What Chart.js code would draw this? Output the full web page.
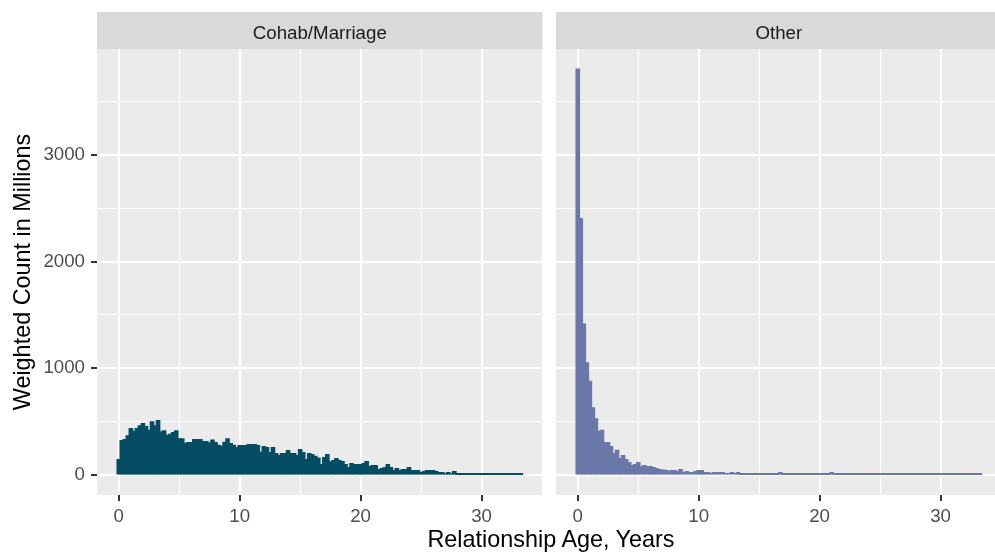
<!DOCTYPE html>
<html lang="en">

<head>
  <meta charset="UTF-8">
  <script src="https://cdn.jsdelivr.net/npm/chart.js"></script>
  <title>Relationship Age Histogram</title>
  <style>
    body { margin: 0; width: 995px; height: 558px; overflow: hidden; background: #fff; position: relative; font-family: "Liberation Sans", Arial, sans-serif; }
    canvas { position: absolute; top: 0; }
    #cohab { left: 0; }
    #other { left: 556px; }
    #x-title { position: absolute; left: 0; width: 1102px; top: 528px; text-align: center; font-size: 23.4px; line-height: 23.4px; color: #000; }
  </style>
</head>

<body>
  <canvas id="cohab" width="547" height="558"></canvas>
  <canvas id="other" width="450" height="558"></canvas>
  <div id="x-title">Relationship Age, Years</div>

<script>
  // histogram bins are 0.25 years wide, centred on 0, 0.25, 0.5 ...
  const binWidth = 0.25
  const panelLabels = ['Cohab/Marriage', 'Other']
  const xTicks = [0, 10, 20, 30]
  const xMinor = [5, 15, 25, 35]
  const yTicks = [0, 1000, 2000, 3000]
  const yMinor = [500, 1500, 2500, 3500]

  const cohabCounts = [
    140, 318, 327, 364, 430, 405, 430, 458, 477, 449,
    414, 495, 458, 505, 400, 411, 367, 378, 394, 411,
    336, 336, 293, 300, 300, 327, 327, 327, 310, 310,
    296, 322, 300, 274, 265, 302, 336, 290, 274, 252,
    271, 271, 271, 280, 280, 280, 271, 209, 262, 252,
    206, 252, 196, 178, 196, 196, 224, 196, 196, 178,
    234, 206, 140, 196, 187, 170, 154, 93, 159, 187,
    118, 131, 150, 131, 121, 93, 65, 103, 93, 93,
    93, 103, 121, 75, 84, 84, 47, 56, 65, 93,
    65, 37, 56, 37, 47, 47, 65, 37, 37, 37,
    19, 28, 37, 37, 37, 28, 19, 19, 9, 19,
    9, 28, 5, 5, 5, 5, 5, 5, 5, 5,
    5, 5, 5, 5, 5, 5, 5, 5, 5, 5,
    5, 5, 5, 5
  ]

  const otherCounts = [
    3804, 2402, 1411, 1047, 875, 626, 523, 405, 414, 299,
    299, 262, 196, 227, 150, 178, 140, 112, 84, 93,
    112, 75, 84, 75, 75, 65, 56, 47, 42, 40,
    33, 37, 37, 28, 47, 19, 28, 19, 19, 28,
    37, 37, 19, 19, 9, 19, 19, 19, 19, 9,
    9, 19, 9, 19, 6, 5, 6, 5, 5, 6,
    5, 5, 6, 5, 5, 5, 6, 19, 5, 5,
    6, 5, 5, 5, 6, 5, 5, 5, 5, 6,
    5, 5, 5, 5, 19, 4, 4, 5, 4, 4,
    4, 4, 4, 5, 4, 4, 4, 4, 4, 4,
    4, 4, 4, 4, 4, 4, 4, 4, 4, 4,
    4, 4, 4, 4, 4, 4, 4, 4, 4, 4,
    4, 4, 4, 4, 4, 4, 4, 4, 4, 4,
    4, 4, 4, 4
  ]

  Chart.defaults.font.family = '"Liberation Sans", Arial, sans-serif'

  // grey panel background + facet strip on top
  const stripPlugin = {
    id: 'strip',
    beforeDraw(chart, args, opts) {
      const { ctx, chartArea } = chart
      ctx.save()
      ctx.fillStyle = '#ebebeb'
      ctx.fillRect(chartArea.left, chartArea.top, chartArea.width, chartArea.height)
      ctx.fillStyle = '#d9d9d9'
      ctx.fillRect(chartArea.left, 12, chartArea.width, chartArea.top - 12)
      ctx.fillStyle = '#1a1a1a'
      ctx.font = '18.7px "Liberation Sans", Arial, sans-serif'
      ctx.textAlign = 'center'
      ctx.textBaseline = 'alphabetic'
      ctx.fillText(opts.label, chartArea.left + chartArea.width / 2, 38.5)
      ctx.restore()
    }
  }

  const isMajor = (list, c) => c.tick && list.includes(c.tick.value)
  // major + minor breaks, sorted, inside the limits
  const breaks = (major, minor, lo, hi) =>
    major.concat(minor).filter(v => v >= lo && v <= hi).sort((a, b) => a - b).map(value => ({ value }))

  function makePanel(id, label, counts, color, showY) {
    const ctx = document.getElementById(id).getContext('2d')
    return new Chart(ctx, {
      type: 'bar',
      data: {
        datasets: [{
          data: counts.map((y, i) => ({ x: i * binWidth, y })),
          backgroundColor: color,
          borderWidth: 0,
          barPercentage: 1,
          categoryPercentage: 1,
          inflateAmount: 0.8,
        }]
      },
      plugins: [stripPlugin],
      options: {
        responsive: false,
        animation: false,
        devicePixelRatio: 1,
        layout: { padding: { top: 49, left: 0, right: 0, bottom: 0 } },
        plugins: {
          legend: { display: false },
          tooltip: { enabled: false },
          strip: { label },
        },
        scales: {
          x: {
            type: 'linear',
            min: -1.8,
            max: 35.05,
            offset: false,
            afterBuildTicks: s => { s.ticks = breaks(xTicks, xMinor, s.min, s.max) },
            afterFit: s => { s.height = 63 },
            border: { display: false },
            grid: {
              offset: false,
              color: '#ffffff',
              lineWidth: c => isMajor(xTicks, c) ? 2 : 1,
              tickLength: 6,
              tickWidth: 2,
              tickColor: c => isMajor(xTicks, c) ? '#333333' : 'rgba(0,0,0,0)',
            },
            ticks: {
              autoSkip: false,
              maxRotation: 0,
              padding: 5,
              color: '#4d4d4d',
              font: { size: 18.7 },
              callback: v => xTicks.includes(v) ? v : '',
            },
          },
          y: {
            min: -190,
            max: 3994,
            afterBuildTicks: s => { s.ticks = breaks(yTicks, yMinor, s.min, s.max) },
            afterFit: s => { s.width = showY ? 97 : 0 },
            border: { display: false },
            grid: {
              color: '#ffffff',
              lineWidth: c => isMajor(yTicks, c) ? 2 : 1,
              tickLength: 6,
              tickWidth: 2,
              tickColor: c => isMajor(yTicks, c) ? '#333333' : 'rgba(0,0,0,0)',
            },
            ticks: {
              display: showY,
              autoSkip: false,
              padding: 6,
              color: '#4d4d4d',
              font: { size: 18.7 },
              callback: v => yTicks.includes(v) ? v : '',
            },
            title: {
              display: showY,
              text: 'Weighted Count in Millions',
              color: '#000000',
              font: { size: 23.4 },
              padding: { top: 10, bottom: 0 },
            },
          },
        },
      },
    })
  }

  makePanel('cohab', panelLabels[0], cohabCounts, '#044c62', true)
  makePanel('other', panelLabels[1], otherCounts, '#6a77a9', false)
</script>
</body>

</html>
